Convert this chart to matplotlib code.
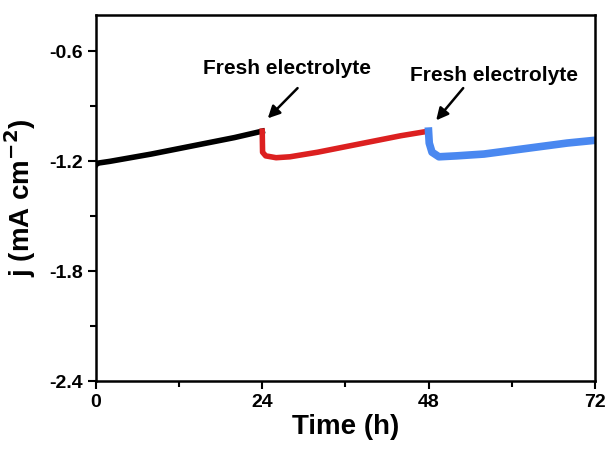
import matplotlib
matplotlib.use("Agg")
import matplotlib.pyplot as plt
from matplotlib.ticker import MultipleLocator

plt.rcParams['font.family'] = ['Liberation Sans', 'DejaVu Sans']
plt.rcParams['font.weight'] = 'bold'
plt.rcParams['mathtext.default'] = 'bf'

t_black = [0, 0.2, 2, 5, 8, 12, 16, 20, 24]
j_black = [-1.22, -1.21, -1.20, -1.18, -1.16, -1.13, -1.10, -1.07, -1.035]

t_red = [24, 24.05, 24.5, 26, 28, 32, 36, 40, 44, 48]
j_red = [-1.035, -1.15, -1.17, -1.18, -1.175, -1.15, -1.12, -1.09, -1.06, -1.035]

t_blue = [48, 48.1, 48.5, 49.5, 52, 56, 60, 64, 68, 72]
j_blue = [-1.035, -1.10, -1.15, -1.175, -1.17, -1.16, -1.14, -1.12, -1.10, -1.085]

fig = plt.figure(figsize=(6.07, 4.5), dpi=100)
ax = fig.add_axes([0.158, 0.153, 0.822, 0.814])

ax.plot(t_black, j_black, color='black', lw=4)
ax.plot(t_red, j_red, color='#dc2020', lw=4)
ax.plot(t_blue, j_blue, color='#4a88f0', lw=5.5)

ax.set_xlim(0, 72)
ax.set_ylim(-2.4, -0.4)
ax.xaxis.set_major_locator(MultipleLocator(24))
ax.xaxis.set_minor_locator(MultipleLocator(12))
ax.yaxis.set_minor_locator(MultipleLocator(0.3))
ax.set_yticks([-2.4, -1.8, -1.2, -0.6])
ax.set_yticklabels(['-2.4', '-1.8', '-1.2', '-0.6'])

ax.tick_params(which='major', direction='out', length=6, width=1.5, labelsize=14)
ax.tick_params(which='minor', direction='out', length=4, width=1.5)
for s in ax.spines.values():
    s.set_linewidth(1.8)

ax.set_xlabel('Time (h)', fontsize=20, fontweight='bold', labelpad=2)
ax.set_ylabel('j (mA cm$^{-2}$)', fontsize=20, fontweight='bold', labelpad=8)

# annotations
ax.text(27.6, -0.693, 'Fresh electrolyte', ha='center', va='center',
        fontsize=15, fontweight='bold')
ax.annotate('', xy=(24.8, -0.965), xytext=(29.1, -0.80),
            arrowprops=dict(arrowstyle='-|>', color='black', lw=1.8,
                            mutation_scale=18, shrinkA=0, shrinkB=0))
ax.text(57.5, -0.73, 'Fresh electrolyte', ha='center', va='center',
        fontsize=15, fontweight='bold')
ax.annotate('', xy=(49.1, -0.976), xytext=(53.0, -0.80),
            arrowprops=dict(arrowstyle='-|>', color='black', lw=1.8,
                            mutation_scale=18, shrinkA=0, shrinkB=0))

fig.savefig('out.png', dpi=100)
